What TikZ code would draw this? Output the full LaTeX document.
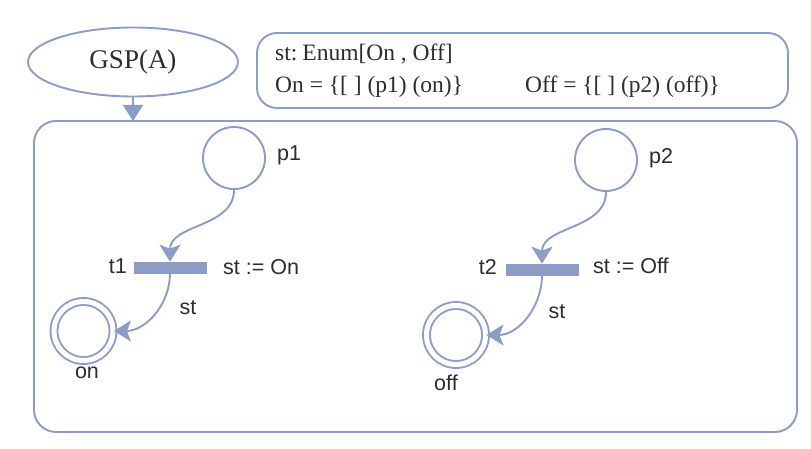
\documentclass[tikz,border=0pt]{standalone}
\usepackage{fontspec}
\setmainfont{Liberation Serif}
\setsansfont{Liberation Sans}
\usetikzlibrary{arrows.meta,positioning}
\usetikzlibrary{shapes.geometric}

\definecolor{netblue}{RGB}{141,156,198}
\definecolor{inktext}{RGB}{45,45,45}

\tikzset{
  place/.style={circle,draw=netblue,line width=1.9pt,minimum size=62pt,inner sep=0pt},
  finalplace/.style={place,double=white,double distance=5pt,minimum size=59pt},
  trans/.style={rectangle,fill=netblue,draw=netblue,line width=0.6pt,minimum width=72pt,minimum height=11pt,inner sep=0pt},
  flow/.style={draw=netblue,line width=1.9pt,-{Stealth[length=17pt,width=21pt,inset=4pt]}},
  lbl/.style={font=\sffamily\fontsize{21.5}{24}\selectfont,text=inktext,inner sep=0pt},
  decl/.style={font=\fontsize{23.5}{28}\selectfont,text=inktext,inner sep=0pt,anchor=base west}
}

\begin{document}
\begin{tikzpicture}[x=1pt,y=1pt]

\useasboundingbox (0,0) rectangle (811,449);

% ========================
% HEADER: net name and declarations
% ========================

\node[ellipse,draw=netblue,line width=1.9pt,minimum width=210pt,minimum height=69pt,inner sep=0pt,
      font=\fontsize{27}{30}\selectfont,text=inktext] (gsp) at (133,387) {GSP(A)};

\draw[netblue,line width=1.9pt,rounded corners=20pt] (257,416) rectangle (788,341);

\node[decl] (declst)  at (275,388) {st:\hspace{5pt}Enum[On , Off]};
\node[decl] (declon)  at (275,356) {On = \{[ ] (p1) (on)\}};
\node[decl] (decloff) at (525,356) {Off = \{[ ] (p2) (off)\}};

% ========================
% MAIN NET BLOCK
% ========================

\node[draw=netblue,line width=1.9pt,rounded corners=22pt,minimum width=763pt,minimum height=311pt,
      inner sep=0pt,outer sep=0pt] (net) at (415.5,172.5) {};

\draw[netblue,line width=1.9pt,-{Triangle[length=16pt,width=20pt]}] (gsp.south) -- (gsp.south |- net.north);

% left part: p1 -> t1 -> on
\node[place] (p1) at (234,291) {};
\node[trans] (t1) at (170,181.5) {};
\node[finalplace] (on) at (83.5,118) {};

\node[lbl,anchor=west] (p1lbl) at (277,294) {p1};
\node[lbl,anchor=east] (t1lbl) at (127,183) {t1};
\node[lbl,anchor=west] (t1act) at (223,182) {st := On};
\node[lbl] (on_st) at (188,141) {st};
\node[lbl] (onlbl) at (87,76) {on};

\draw[flow] (p1.south) to[out=-90,in=90] (t1.north);
\draw[flow] (t1.south) to[out=-90,in=0] (on.east);

% right part: p2 -> t2 -> off
\node[place] (p2) at (606,289) {};
\node[trans] (t2) at (542,179.5) {};
\node[finalplace] (off) at (456,114) {};

\node[lbl,anchor=west] (p2lbl) at (649,291) {p2};
\node[lbl,anchor=east] (t2lbl) at (497,182) {t2};
\node[lbl,anchor=west] (t2act) at (593,183) {st := Off};
\node[lbl] (off_st) at (557,137) {st};
\node[lbl] (offlbl) at (446,66) {off};

\draw[flow] (p2.south) to[out=-90,in=90] (t2.north);
\draw[flow] (t2.south) to[out=-90,in=0] (off.east);

\end{tikzpicture}
\end{document}
